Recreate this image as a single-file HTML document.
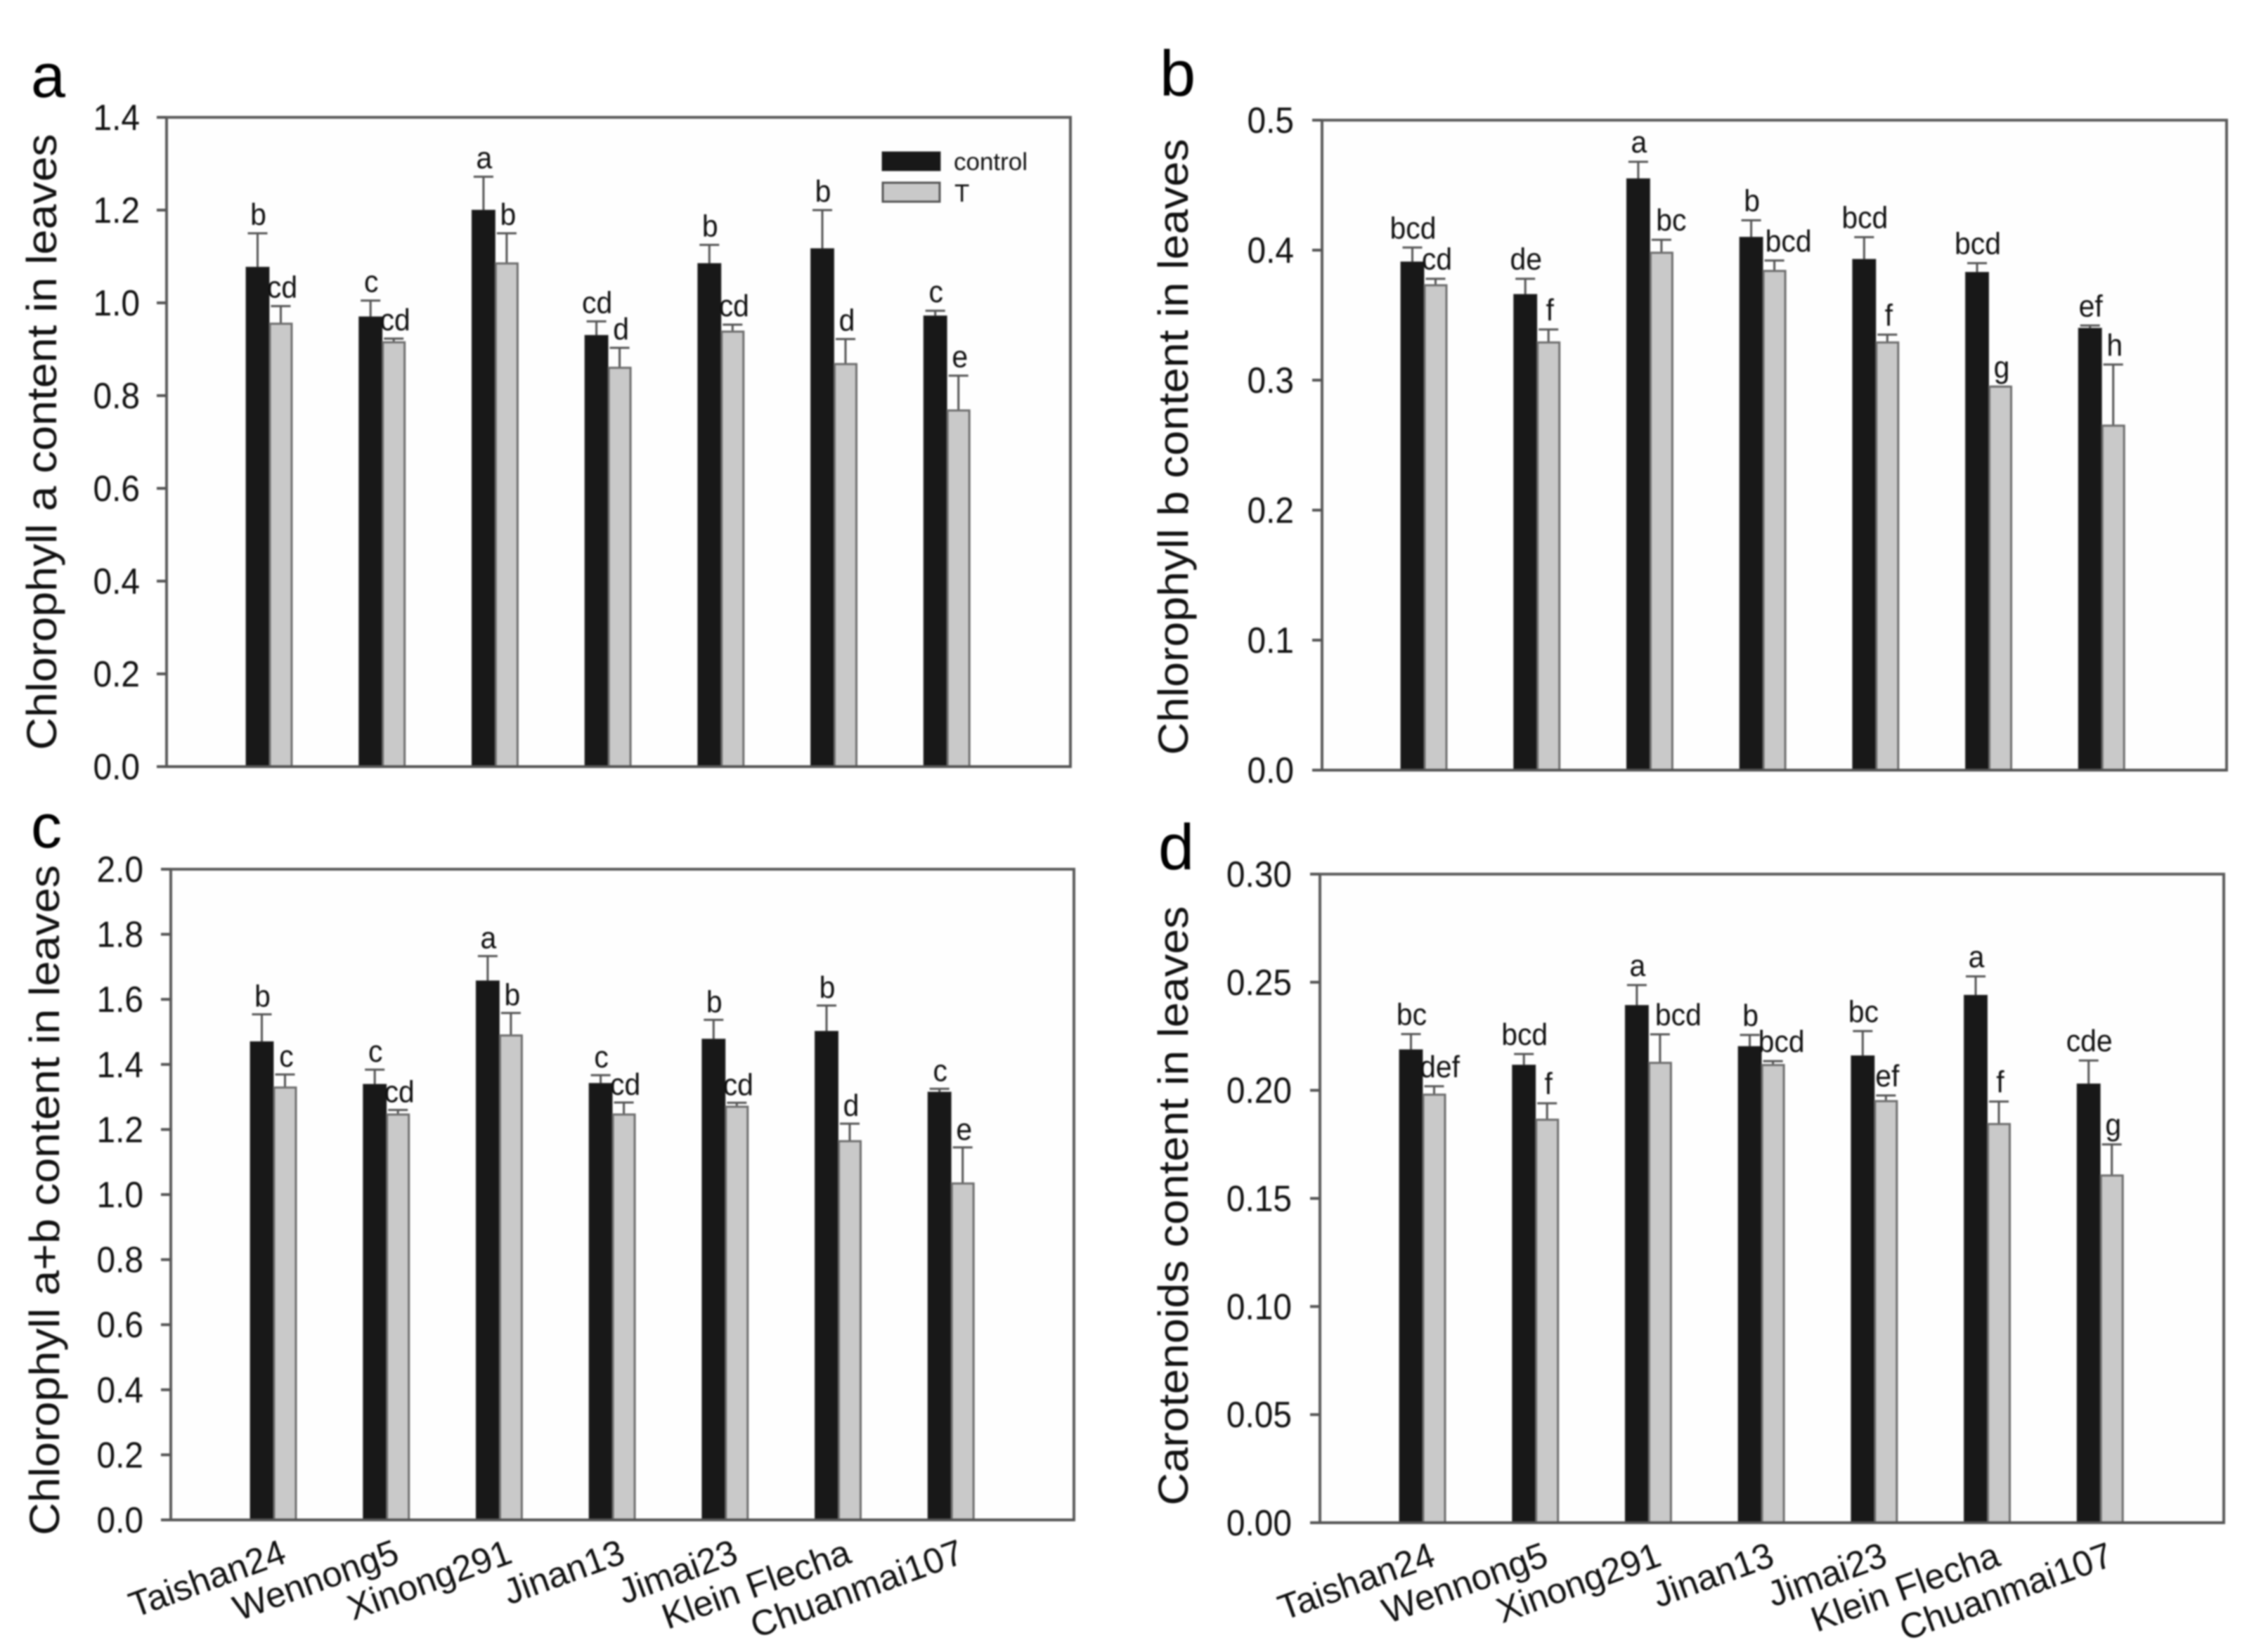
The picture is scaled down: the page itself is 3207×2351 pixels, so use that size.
<!DOCTYPE html>
<html lang="en">
<head>
<meta charset="utf-8">
<title>Leaf pigment content across wheat cultivars</title>
<style>
  html,body{margin:0;padding:0;background:#fff;width:3207px;height:2351px;overflow:hidden}
  #figure{display:block;filter:blur(1.1px)}
  text{font-family:"Liberation Sans",Arial,sans-serif;fill:#111}
</style>
</head>
<body>
<svg id="figure" xmlns="http://www.w3.org/2000/svg" width="3207" height="2351" viewBox="0 0 3207 2351">
  <rect x="0" y="0" width="3207" height="2351" fill="#ffffff"/>
  <g id="panels"></g>
</svg>
<script>
const categories = ['Taishan24','Wennong5','Xinong291','Jinan13','Jimai23','Klein Flecha','Chuanmai107'];

const ticksA = ['0.0','0.2','0.4','0.6','0.8','1.0','1.2','1.4'];
const controlA = [1.077,0.970,1.200,0.930,1.085,1.117,0.972];
const controlErrTopA = [1.150,1.005,1.272,0.960,1.125,1.200,0.983];
const treatA = [0.955,0.915,1.085,0.860,0.938,0.868,0.768];
const treatErrTopA = [0.993,0.923,1.150,0.903,0.953,0.922,0.843];
const controlLettersA = ['b','c','a','cd','b','b','c'];
const treatLettersA = ['cd','cd','b','d','cd','d','e'];

const ticksB = ['0.0','0.1','0.2','0.3','0.4','0.5'];
const controlB = [0.391,0.366,0.455,0.410,0.393,0.383,0.340];
const controlErrTopB = [0.402,0.378,0.468,0.423,0.410,0.390,0.342];
const treatB = [0.373,0.329,0.398,0.384,0.329,0.295,0.265];
const treatErrTopB = [0.378,0.339,0.408,0.392,0.335,0.295,0.312];
const controlLettersB = ['bcd','de','a','b','bcd','bcd','ef'];
const treatLettersB = ['cd','f','bc','bcd','f','g','h'];

const ticksC = ['0.0','0.2','0.4','0.6','0.8','1.0','1.2','1.4','1.6','1.8','2.0'];
const controlC = [1.470,1.339,1.657,1.342,1.478,1.502,1.315];
const controlErrTopC = [1.554,1.384,1.733,1.367,1.537,1.581,1.325];
const treatC = [1.329,1.246,1.489,1.246,1.270,1.164,1.034];
const treatErrTopC = [1.369,1.260,1.558,1.283,1.282,1.218,1.145];
const controlLettersC = ['b','c','a','c','b','b','c'];
const treatLettersC = ['c','cd','b','cd','cd','d','e'];

const ticksD = ['0.00','0.05','0.10','0.15','0.20','0.25','0.30'];
const controlD = [0.2188,0.2117,0.2393,0.2203,0.2160,0.2440,0.2030];
const controlErrTopD = [0.2260,0.2168,0.2487,0.2256,0.2274,0.2527,0.2138];
const treatD = [0.1980,0.1864,0.2127,0.2117,0.1950,0.1844,0.1606];
const treatErrTopD = [0.2019,0.1940,0.2259,0.2135,0.1976,0.1948,0.1750];
const controlLettersD = ['bc','bcd','a','b','bc','a','cde'];
const treatLettersD = ['def','f','bcd','bcd','ef','f','g'];

const panelConfigs = [
  {id:'a',title:'Chlorophyll a content in leaves',ticks:ticksA,control:controlA,controlErr:controlErrTopA,treat:treatA,treatErr:treatErrTopA,cLetters:controlLettersA,tLetters:treatLettersA,
   left:237,right:1523,top:167,bottom:1091,x0:383,tickGap:38,titleX:80,titleY:629,titleLen:877,letterX:44,letterY:138,letterSize:88,letterGap:12,groupShift:{},showX:false,legend:true},
  {id:'b',title:'Chlorophyll b content in leaves',ticks:ticksB,control:controlB,controlErr:controlErrTopB,treat:treatB,treatErr:treatErrTopB,cLetters:controlLettersB,tLetters:treatLettersB,
   left:1881,right:3168,top:171,bottom:1096,x0:2026,tickGap:40,titleX:1690,titleY:636,titleLen:877,letterX:1650,letterY:136,letterSize:92,letterGap:13,groupShift:{2:12,3:18},showX:false,legend:false},
  {id:'c',title:'Chlorophyll a+b content in leaves',ticks:ticksC,control:controlC,controlErr:controlErrTopC,treat:treatC,treatErr:treatErrTopC,cLetters:controlLettersC,tLetters:treatLettersC,
   left:243,right:1528,top:1237,bottom:2163,x0:389,tickGap:39,titleX:84,titleY:1708,titleLen:954,letterX:44,letterY:1206,letterSize:88,letterGap:11,groupShift:{},showX:true,legend:false},
  {id:'d',title:'Carotenoids content in leaves',ticks:ticksD,control:controlD,controlErr:controlErrTopD,treat:treatD,treatErr:treatErrTopD,cLetters:controlLettersD,tLetters:treatLettersD,
   left:1878,right:3164,top:1244,bottom:2167,x0:2024,tickGap:40,titleX:1690,titleY:1716,titleLen:853,letterX:1648,letterY:1237,letterSize:92,letterGap:13,groupShift:{0:6,2:24,3:10},showX:true,legend:false}
];

const GROUP_STEP = 160.7, BAR_W = 33, CAP_HALF = 14, TICK_LEN = 14;
const NS = 'http://www.w3.org/2000/svg';
const root = document.getElementById('panels');

function svgEl(tag, attrs, parent, text) {
  const el = document.createElementNS(NS, tag);
  for (const k in attrs) el.setAttribute(k, attrs[k]);
  if (text !== undefined) el.textContent = text;
  parent.appendChild(el);
  return el;
}

function drawPanel(p) {
  const g = svgEl('g', {}, root);
  
  

  const maxV = parseFloat(p.ticks[p.ticks.length - 1]);
  const yScale = v => p.bottom - (v / maxV) * (p.bottom - p.top);
  const xScale = i => p.x0 + i * GROUP_STEP;

  const label = svgEl('text', {x:p.letterX, y:p.letterY, 'font-size':p.letterSize, style:'fill:#000'}, g, p.id);
  
  

  const title = svgEl('text', {
    transform:'translate(' + p.titleX + ',' + p.titleY + ') rotate(-90)',
    'text-anchor':'middle','font-size':60,textLength:p.titleLen,lengthAdjust:'spacingAndGlyphs'
  }, g, p.title);
  
  

  const frame = svgEl('rect', {x:p.left, y:p.top, width:p.right - p.left, height:p.bottom - p.top, fill:'#fefefe', stroke:'#5c5c5c', 'stroke-width':4}, g);
  
  

  p.ticks.forEach(function (t) {
    const y = yScale(parseFloat(t));
    const tick = svgEl('line', {x1:p.left - TICK_LEN, x2:p.left, y1:y, y2:y, stroke:'#555', 'stroke-width':4}, g);
    
    
    const tl = svgEl('text', {
      transform:'translate(' + (p.left - p.tickGap) + ',' + (y + 18) + ') scale(0.92,1)',
      'text-anchor':'end','font-size':52
    }, g, t);
    
    
  });

  categories.forEach(function (cat, i) {
    const bx = xScale(i);
    const key = p.id + '-' + (i + 1);

    const cErr = svgEl('path', {
      d:'M' + (bx - BAR_W / 2) + ' ' + yScale(p.control[i]) + 'V' + yScale(p.controlErr[i]) + 'M' + (bx - BAR_W / 2 - CAP_HALF) + ' ' + yScale(p.controlErr[i]) + 'H' + (bx - BAR_W / 2 + CAP_HALF),
      stroke:'#555', 'stroke-width':3, fill:'none'
    }, g);
    
    

    const tErr = svgEl('path', {
      d:'M' + (bx + BAR_W / 2) + ' ' + yScale(p.treat[i]) + 'V' + yScale(p.treatErr[i]) + 'M' + (bx + BAR_W / 2 - CAP_HALF) + ' ' + yScale(p.treatErr[i]) + 'H' + (bx + BAR_W / 2 + CAP_HALF),
      stroke:'#555', 'stroke-width':3, fill:'none'
    }, g);
    
    

    const cBar = svgEl('rect', {x:bx - BAR_W, y:yScale(p.control[i]), width:BAR_W, height:p.bottom - yScale(p.control[i]), fill:'#181818', stroke:'#333', 'stroke-width':1}, g);
    
    

    const tBar = svgEl('rect', {x:bx + 1, y:yScale(p.treat[i]), width:BAR_W - 2, height:p.bottom - yScale(p.treat[i]), fill:'#c9c9c9', stroke:'#6e6e6e', 'stroke-width':3}, g);
    
    

    const cLet = svgEl('text', {
      transform:'translate(' + (bx - BAR_W / 2 + 1) + ',' + (yScale(p.controlErr[i]) - p.letterGap) + ') scale(0.93,1)',
      'text-anchor':'middle','font-size':44
    }, g, p.cLetters[i]);
    
    

    const shift = p.groupShift[i] || 0;
    const tLet = svgEl('text', {
      transform:'translate(' + (bx + BAR_W / 2 + 2 + shift) + ',' + (yScale(p.treatErr[i]) - p.letterGap) + ') scale(0.93,1)',
      'text-anchor':'middle','font-size':44
    }, g, p.tLetters[i]);
    
    

    if (p.showX) {
      const xl = svgEl('text', {
        transform:'translate(' + (bx + 21) + ',' + (p.bottom + 60) + ') rotate(-20)',
        'text-anchor':'end','font-size':51
      }, g, cat);
      
      
    }
  });

  const baseLine = svgEl('line', {x1:p.left - TICK_LEN, x2:p.right, y1:p.bottom, y2:p.bottom, stroke:'#555', 'stroke-width':4}, g);
  
  

  if (p.legend) {
    const lg = svgEl('g', {}, g);
    
    
    const s1 = svgEl('rect', {x:1255, y:216, width:83, height:27, fill:'#181818', stroke:'#333', 'stroke-width':1}, lg);
    
    
    const t1 = svgEl('text', {x:1357, y:242, 'font-size':35}, lg, 'control');
    
    
    const s2 = svgEl('rect', {x:1256, y:260, width:81, height:27, fill:'#c9c9c9', stroke:'#555', 'stroke-width':3}, lg);
    
    
    const t2 = svgEl('text', {x:1358, y:287, 'font-size':35}, lg, 'T');
    
    
  }
}

panelConfigs.forEach(drawPanel);
</script>
</body>
</html>
